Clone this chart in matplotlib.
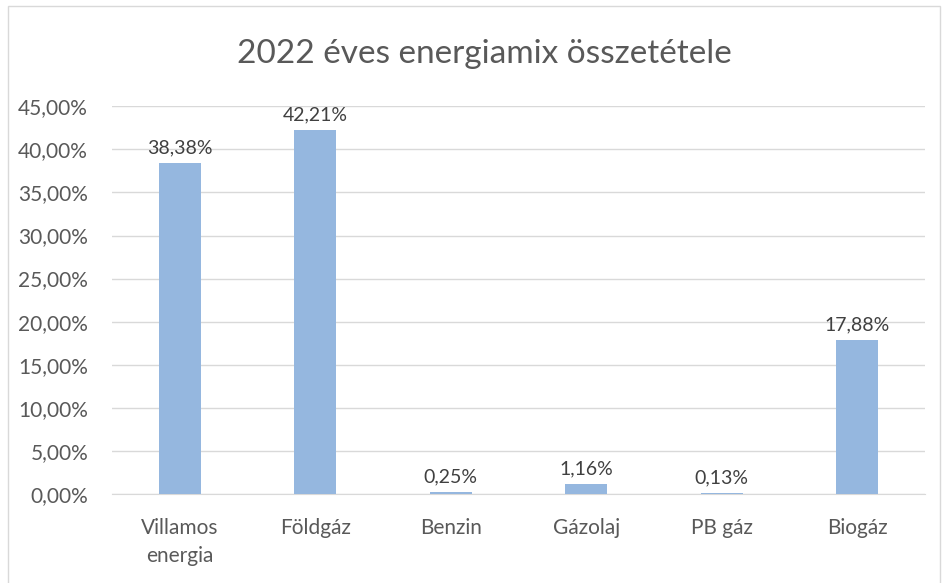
import matplotlib
matplotlib.use("Agg")
from matplotlib import pyplot as plt
from matplotlib.patches import Rectangle
from matplotlib.ticker import FuncFormatter

categories = ["Villamos\nenergia", "Földgáz", "Benzin", "Gázolaj", "PB gáz", "Biogáz"]
shares = [0.3838, 0.4221, 0.0025, 0.0116, 0.0013, 0.1788]
title = "2022 éves energiamix összetétele"

plt.rcParams['font.family'] = ['Lato', 'DejaVu Sans']
txt = '#595959'

fig = plt.figure(figsize=(9.47, 5.83), dpi=100)
ax = fig.add_axes([0.118, 0.1527, 0.859, 0.665])

fig.patches.append(Rectangle((8 / 947, -0.01), 932 / 947, 1 - 6 / 583 + 0.01,
                             transform=fig.transFigure, fill=False,
                             edgecolor='#d9d9d9', linewidth=1))

x = range(len(categories))
bars = ax.bar(x, shares, width=0.31, color='#95b7df', zorder=3)

for b, v in zip(bars, shares):
    ax.text(b.get_x() + b.get_width() / 2, v + 0.008, f"{v * 100:.2f}%".replace('.', ','),
            ha='center', va='bottom', fontsize=14, color='#404040', zorder=4)

ax.set_xlim(-0.5, len(categories) - 0.5)
ax.set_ylim(0, 0.45)
ax.set_yticks([i * 0.05 for i in range(10)])
ax.yaxis.set_major_formatter(FuncFormatter(lambda v, p: f"{v * 100:.2f}%".replace('.', ',')))
ax.set_xticks(list(x))
ax.set_xticklabels(categories, linespacing=1.5)
ax.tick_params(axis='both', length=0, labelsize=15, colors=txt)
ax.tick_params(axis='x', pad=17)
ax.tick_params(axis='y', pad=17)
ax.grid(axis='y', color='#d9d9d9', linewidth=1, zorder=0)
for s in ['top', 'right', 'left']:
    ax.spines[s].set_visible(False)
ax.spines['bottom'].set_color('#d9d9d9')

fig.text(0.511, 0.907, title, ha='center', va='center', fontsize=24, color=txt)

plt.savefig("out.png", dpi=100)
